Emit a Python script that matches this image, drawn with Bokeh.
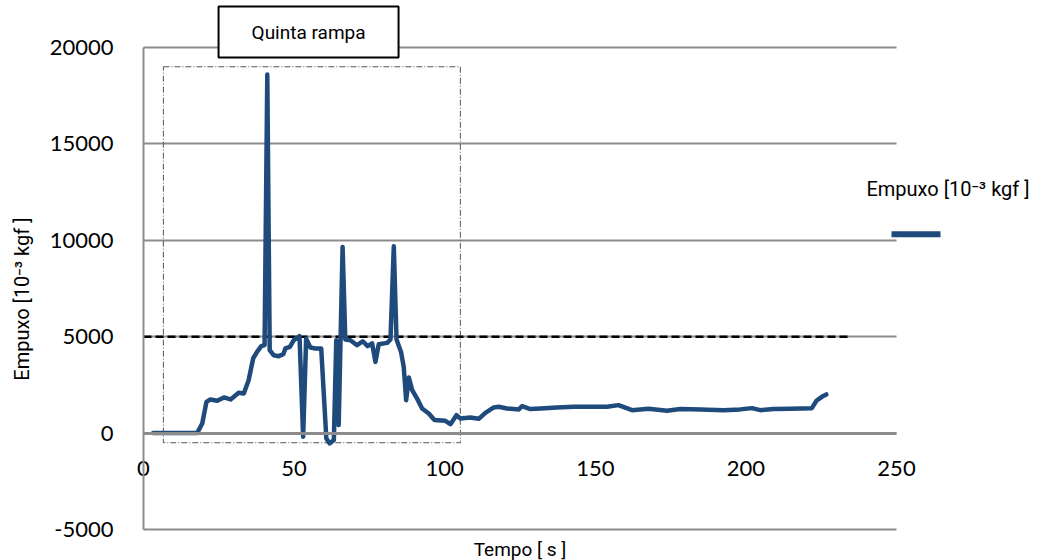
from math import pi
from bokeh.plotting import figure
from bokeh.models import (Label, FixedTicker, LinearAxis,
                          NumeralTickFormatter, Range1d)
from bokeh.embed import file_html
from bokeh.resources import INLINE

# Thrust test: time [s] vs thrust [10^-3 kgf]
tempo = [3.2, 17.8, 19.5, 20.9, 22.2, 24.5, 26.7, 28.9, 31.6, 33.3, 34.9, 36.4,
         37.7, 39.1, 40.2, 41.1, 41.9, 43.2, 44.9, 46.4, 47.1, 48.6, 49.9, 51.8,
         53.0, 54.0, 55.4, 57.1, 59.0, 60.7, 61.8, 63.2, 64.0, 64.8, 66.1, 67.0,
         68.7, 70.9, 72.8, 74.4, 75.9, 77.0, 78.1, 80.9, 82.0, 83.1, 84.0, 85.5,
         86.4, 87.2, 88.1, 89.2, 90.8, 92.5, 94.7, 96.6, 100.2, 101.9, 103.9,
         105.2, 108.5, 111.3, 113.5, 116.3, 117.9, 120.7, 124.6, 125.7, 128.4,
         131.8, 137.3, 142.8, 148.4, 153.9, 157.7, 162.2, 167.7, 173.8, 178.2,
         184.9, 192.6, 198.1, 202.0, 204.8, 209.2, 214.7, 221.9, 223.4, 225.2,
         226.7]
empuxo = [0, 0, 500, 1620, 1745, 1675, 1850, 1745, 2090, 2055, 2745, 3870,
          4210, 4510, 4560, 18600, 4300, 4040, 3990, 4090, 4390, 4470, 4820, 5025,
          -190, 4900, 4440, 4390, 4390, -275, -535, -360, 4820, 415, 9650, 4855,
          4820, 4560, 4765, 4510, 4650, 3695, 4610, 4680, 4855, 9690, 4855, 4210,
          3435, 1710, 2885, 2230, 1800, 1280, 1020, 675, 640, 465, 930,
          760, 810, 740, 1050, 1330, 1365, 1280, 1230, 1400, 1245,
          1280, 1330, 1365, 1365, 1365, 1450, 1190, 1260, 1155, 1245,
          1230, 1190, 1230, 1295, 1190, 1245, 1260, 1295, 1675, 1880,
          2005]

# reference level and the highlighted "fifth ramp" window
limite_x = [0, 234]
limite_y = 5000
rampa_t = [6.6, 105.2]
rampa_e = [-500, 19000]

x_ticks = [0, 50, 100, 150, 200, 250]
y_ticks = [-5000, 0, 5000, 10000, 15000, 20000]
x_lim = (0, 250)
y_lim = (-5000, 20000)

AZUL = "#1f4a7c"
CINZA = "#8c8c8c"
UNIDADE = "Empuxo [10\u207b\u00b3 kgf ]"
FONTE = "Roboto"

# the frame fills the whole canvas; the plotted area (0-250 s, -5000..20000)
# sits inside it, leaving room for titles and the legend around it
px_x = 753 / 250.0
px_y = 482 / 25000.0
x_range = Range1d(-143 / px_x, 250 + 158 / px_x)
y_range = Range1d(-5000 - 31 / px_y, 20000 + 47 / px_y)

# legend sample placed to the right of the plotted area
legenda_x = [x_lim[1] - 5 / px_x, x_lim[1] + 44 / px_x]
legenda_y = 10320

p = figure(width=1054, height=560, output_backend="svg", toolbar_location=None,
           x_range=x_range, y_range=y_range,
           x_axis_location=None, y_axis_location=None,
           min_border=0)
p.outline_line_color = None
p.background_fill_color = "white"
p.border_fill_color = "white"
p.xgrid.visible = False

# horizontal grid over the plotted area only
p.ygrid.ticker = FixedTicker(ticks=y_ticks)
p.ygrid.cross_bounds = x_lim
p.ygrid.grid_line_color = CINZA
p.ygrid.grid_line_width = 2

# axes crossing at the origin
xaxis = LinearAxis(ticker=FixedTicker(ticks=x_ticks), fixed_location=0,
                   bounds=x_lim)
xaxis.axis_line_color = CINZA
xaxis.axis_line_width = 3
xaxis.major_tick_line_color = None
xaxis.minor_tick_line_color = None
xaxis.major_label_standoff = 22
xaxis.major_label_text_font = "Lato"
xaxis.major_label_text_font_size = "22px"
xaxis.major_label_text_color = "black"
p.add_layout(xaxis, "below")

yaxis = LinearAxis(ticker=FixedTicker(ticks=y_ticks), fixed_location=0,
                   bounds=y_lim, formatter=NumeralTickFormatter(format="0"))
yaxis.axis_line_color = CINZA
yaxis.axis_line_width = 2
yaxis.major_tick_line_color = None
yaxis.minor_tick_line_color = None
yaxis.major_label_standoff = 24
yaxis.major_label_text_font = "Lato"
yaxis.major_label_text_font_size = "22px"
yaxis.major_label_text_color = "black"
p.add_layout(yaxis, "left")

# highlighted window (dash-dot frame)
p.quad(left=[rampa_t[0]], right=[rampa_t[1]], bottom=[rampa_e[0]], top=[rampa_e[1]],
       fill_color=None, line_color="#555555", line_width=1, line_dash="6 2 1 2")

# 5000 reference line
p.line(limite_x, [limite_y, limite_y], line_color="black", line_width=2.5,
       line_dash="8 4")

# thrust curve
p.line(tempo, empuxo, line_color=AZUL, line_width=4.5, line_join="round",
       line_cap="round")

# box label for the ramp
p.add_layout(Label(x=54.8, y=20800, text="Quinta rampa", text_align="center",
                   text_baseline="middle", text_font=FONTE,
                   text_font_size="19px", text_color="black",
                   background_fill_color="white", border_line_color="black",
                   border_line_width=2,
                   padding={"left": 33, "right": 33, "top": 14, "bottom": 14}))

# axis titles
p.add_layout(Label(x=125, y=-6017, text="Tempo [ s ]", text_align="center",
                   text_baseline="middle", text_font=FONTE,
                   text_font_size="19px", text_color="black"))
p.add_layout(Label(x=-40.2, y=6950, text=UNIDADE, angle=pi / 2,
                   text_align="center", text_baseline="middle",
                   text_font=FONTE, text_font_size="20px", text_color="black"))

# legend: caption text above the line sample
p.add_layout(Label(x=240, y=12660, text=UNIDADE, text_align="left",
                   text_baseline="middle", text_font=FONTE,
                   text_font_size="20px", text_color="black"))
p.line(legenda_x, [legenda_y, legenda_y], line_color=AZUL, line_width=6)

open("out.html", "w").write(file_html(p, INLINE))
